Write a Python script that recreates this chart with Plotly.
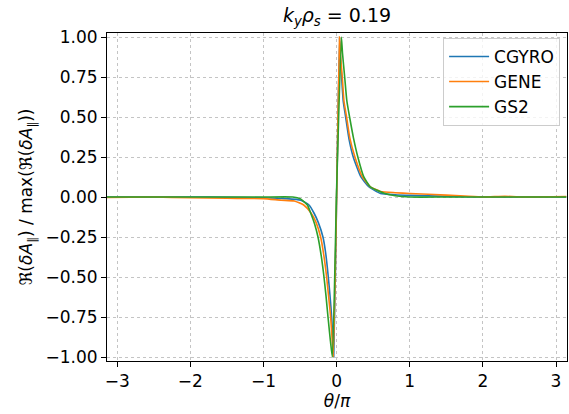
import plotly.graph_objects as go

# theta/pi sample positions and normalised Re(dA_par) values
cgyro_x = [-3.14, -2.5, -2.0, -1.5, -1.0, -0.7, -0.49, -0.378, -0.31, -0.25, -0.187, -0.15, -0.114,
           -0.09, -0.068, -0.05, -0.04, 0.0, 0.04, 0.05, 0.068, 0.09, 0.123, 0.17, 0.227, 0.33,
           0.44, 0.6, 0.8, 1.0, 1.5, 2.0, 2.5, 3.14]
cgyro_y = [0.0, 0.0, 0.0, -0.002, -0.005, -0.01, -0.02, -0.05, -0.1, -0.16, -0.25, -0.35, -0.5,
           -0.62, -0.75, -0.9, -1.0, 0.0, 1.0, 0.88, 0.75, 0.6, 0.5, 0.36, 0.25, 0.127,
           0.064, 0.022, 0.014, 0.01, 0.004, 0.0, 0.0, 0.0]

gene_x = [-3.14, -2.5, -2.0, -1.5, -1.0, -0.76, -0.58, -0.45, -0.35, -0.28, -0.219, -0.18, -0.137,
          -0.11, -0.082, -0.06, -0.045, 0.0, 0.04, 0.05, 0.077, 0.1, 0.136, 0.18, 0.25, 0.35,
          0.46, 0.6, 0.8, 1.0, 1.5, 1.75, 2.0, 2.3, 2.6, 3.14]
gene_y = [-0.003, 0.0, -0.005, -0.008, -0.01, -0.02, -0.025, -0.05, -0.1, -0.16, -0.25, -0.35, -0.5,
          -0.62, -0.75, -0.9, -1.0, 0.0, 1.0, 0.9, 0.75, 0.6, 0.5, 0.37, 0.25, 0.127,
          0.064, 0.035, 0.027, 0.022, 0.012, 0.006, 0.0, 0.004, 0.0, 0.003]

gs2_x = [-3.14, -2.5, -2.0, -1.5, -1.0, -0.6, -0.5, -0.4, -0.355, -0.3, -0.255, -0.21, -0.173,
         -0.145, -0.118, -0.085, -0.058, 0.0, 0.065, 0.08, 0.11, 0.14, 0.177, 0.23, 0.29, 0.37,
         0.46, 0.65, 0.8, 1.0, 1.5, 2.0, 2.5, 3.14]
gs2_y = [0.0, 0.0, 0.0, 0.0, 0.0, 0.0, -0.01, -0.05, -0.1, -0.17, -0.25, -0.37, -0.5,
         -0.62, -0.75, -0.9, -1.0, 0.05, 1.0, 0.9, 0.75, 0.6, 0.5, 0.37, 0.25, 0.127,
         0.064, 0.023, 0.008, 0.0, 0.0, 0.0, 0.0, 0.0]

series = [("CGYRO", cgyro_x, cgyro_y, "#1f77b4"),
          ("GENE", gene_x, gene_y, "#ff7f0e"),
          ("GS2", gs2_x, gs2_y, "#2ca02c")]

x_ticks = [-3, -2, -1, 0, 1, 2, 3]
y_ticks = [-1.0, -0.75, -0.5, -0.25, 0.0, 0.25, 0.5, 0.75, 1.0]

fig = go.Figure()
for name, xs, ys, col in series:
    fig.add_trace(go.Scatter(x=xs, y=ys, mode="lines", name=name,
                             line=dict(color=col, width=1.6, shape="spline", smoothing=0.5)))

font = "DejaVu Sans"
axis_common = dict(showline=True, linecolor="black", linewidth=1, mirror=True,
                   ticks="outside", ticklen=5, tickwidth=1, tickcolor="black",
                   showgrid=True, gridcolor="#c4c4c4", griddash="dot", gridwidth=1,
                   zeroline=False, tickfont=dict(family=font, size=17, color="black"))

fig.update_layout(
    width=569, height=414,
    margin=dict(l=107, r=2, t=33, b=53),
    paper_bgcolor="white", plot_bgcolor="white",
    font=dict(family=font, size=17, color="black"),
    title=dict(text="<i>k</i><sub><i>y</i></sub><i>ρ</i><sub><i>s</i></sub> = 0.19",
               x=0.5, xref="paper", y=1 - 15 / 414, yref="container",
               xanchor="center", yanchor="middle",
               font=dict(family=font, size=19, color="black")),
    xaxis=dict(range=[-3.14, 3.15], tickvals=x_ticks,
               title=dict(text="<i>θ</i>/<i>π</i>", standoff=2,
                          font=dict(family=font, size=17)),
               **axis_common),
    yaxis=dict(range=[-1.025, 1.025], tickvals=y_ticks, tickformat=".2f",
               title=dict(text="ℜ(<i>δA</i><sub>∥</sub>) / max(ℜ(<i>δA</i><sub>∥</sub>))",
                          standoff=8, font=dict(family=font, size=17)),
               **axis_common),
    legend=dict(x=0.985, y=0.985, xanchor="right", yanchor="top", itemwidth=40,
                bgcolor="rgba(255,255,255,0.8)", bordercolor="#cccccc", borderwidth=1,
                font=dict(family=font, size=17, color="black")),
    showlegend=True,
)

fig.write_html("out.html")
